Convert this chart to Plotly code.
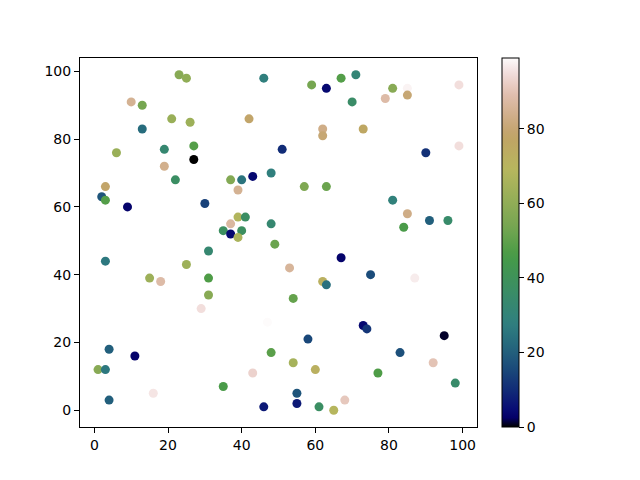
import numpy as np
import plotly.graph_objs as go

# point positions and colour values
x = [23, 25, 46, 10, 13, 21, 26, 42, 13, 19, 27, 6, 27, 19, 22, 37, 40, 43, 48, 39,
     3, 2, 3, 9, 30, 39, 41, 48, 37, 35, 37, 40, 39, 49, 51, 59, 63, 67, 71, 70,
     81, 85, 85, 79, 99, 62, 62, 73, 90, 99, 57, 63, 81, 85, 91, 96, 84, 31, 3, 25,
     15, 18, 31, 31, 29, 47, 4, 11, 1, 3, 48, 43, 35, 16, 4, 46, 67, 53, 75, 87,
     62, 63, 54, 73, 74, 95, 58, 83, 54, 60, 92, 77, 98, 55, 55, 61, 65, 68]
y = [99, 98, 98, 91, 90, 86, 85, 86, 83, 77, 78, 76, 74, 72, 68, 68, 68, 69, 70, 65,
     66, 63, 62, 60, 61, 57, 57, 55, 55, 53, 52, 53, 51, 49, 77, 96, 95, 98, 99, 91,
     95, 95, 93, 92, 96, 83, 81, 83, 76, 78, 66, 66, 62, 58, 56, 56, 54, 47, 44, 43,
     39, 38, 39, 34, 30, 26, 18, 16, 12, 12, 17, 11, 7, 5, 3, 1, 45, 42, 40, 39,
     38, 37, 33, 25, 24, 22, 21, 17, 14, 12, 14, 11, 8, 5, 2, 1, 0, 3]
c = [58, 60, 28, 85, 54, 62, 63, 78, 23, 33, 48, 62, 0, 84, 37, 57, 25, 4, 28, 85,
     78, 18, 48, 3, 14, 68, 37, 33, 87, 38, 4, 38, 66, 52, 10, 54, 4, 48, 31, 36,
     58, 98, 80, 88, 95, 83, 80, 76, 11, 95, 56, 52, 29, 83, 20, 35, 46, 33, 26, 63,
     63, 88, 47, 58, 95, 99, 20, 3, 58, 26, 49, 93, 46, 96, 20, 7, 3, 86, 16, 97,
     72, 24, 51, 4, 12, 1, 15, 17, 65, 72, 90, 47, 35, 18, 7, 37, 69, 91]

ticks = [0, 20, 40, 60, 80, 100]
cbar_ticks = [0, 20, 40, 60, 80]

# gist_earth-like colour map
red = [(0, 0), (0.2824, 0.1882), (0.4588, 0.2714), (0.5490, 0.4719),
       (0.6980, 0.7176), (0.7882, 0.7553), (1, 0.9922)]
green = [(0, 0), (0.0275, 0), (0.1098, 0.1893), (0.1647, 0.3035), (0.2078, 0.3841),
         (0.2824, 0.5020), (0.5216, 0.6397), (0.6980, 0.7171), (0.7882, 0.6392),
         (0.8157, 0.6549), (0.8980, 0.7430), (0.9412, 0.8275), (0.9647, 0.8816),
         (1, 0.9843)]
blue = [(0, 0), (0.0039, 0.1684), (0.0078, 0.2212), (0.0275, 0.4329), (0.0314, 0.4549),
        (0.2824, 0.5004), (0.4667, 0.2748), (0.5451, 0.3205), (0.7843, 0.3961),
        (0.8941, 0.6651), (1, 0.9843)]


def chan(seg, t):
    return np.interp(t, [p[0] for p in seg], [p[1] for p in seg])


stops = np.linspace(0, 1, 41)
colorscale = []
for t in stops:
    r, g, b = (int(round(255 * chan(s, t))) for s in (red, green, blue))
    colorscale.append([float(t), f'rgb({r},{g},{b})'])

fig = go.Figure()
fig.add_trace(go.Scatter(
    x=x, y=y, mode='markers',
    marker=dict(
        size=9, color=c, colorscale=colorscale, cmin=0, cmax=99,
        line=dict(width=0),
        colorbar=dict(
            x=1.063, xanchor='left', xpad=0, ypad=0,
            y=0.5, yanchor='middle', len=1, lenmode='fraction',
            thickness=17, thicknessmode='pixels',
            outlinewidth=1, outlinecolor='black',
            tickvals=cbar_ticks, ticks='outside', ticklen=5, tickwidth=1,
            tickcolor='black', tickfont=dict(size=14, color='black'),
        ),
    ),
    showlegend=False,
))

axis_style = dict(
    showgrid=False, zeroline=False, showline=True, linecolor='black',
    linewidth=1, mirror=True, ticks='outside', ticklen=5, tickwidth=1,
    tickcolor='black', tickvals=ticks, tickfont=dict(size=14, color='black'),
)

# the page body adds an 8px offset, so the figure is 8px smaller
fig.update_layout(
    width=632, height=472,
    margin=dict(l=72, r=163, t=50, b=53),
    paper_bgcolor='white', plot_bgcolor='white',
    font=dict(family='DejaVu Sans', size=14, color='black'),
    xaxis=dict(range=[-3.9, 103.9], **axis_style),
    yaxis=dict(range=[-4.95, 103.95], **axis_style),
)

fig.write_html("out.html")
